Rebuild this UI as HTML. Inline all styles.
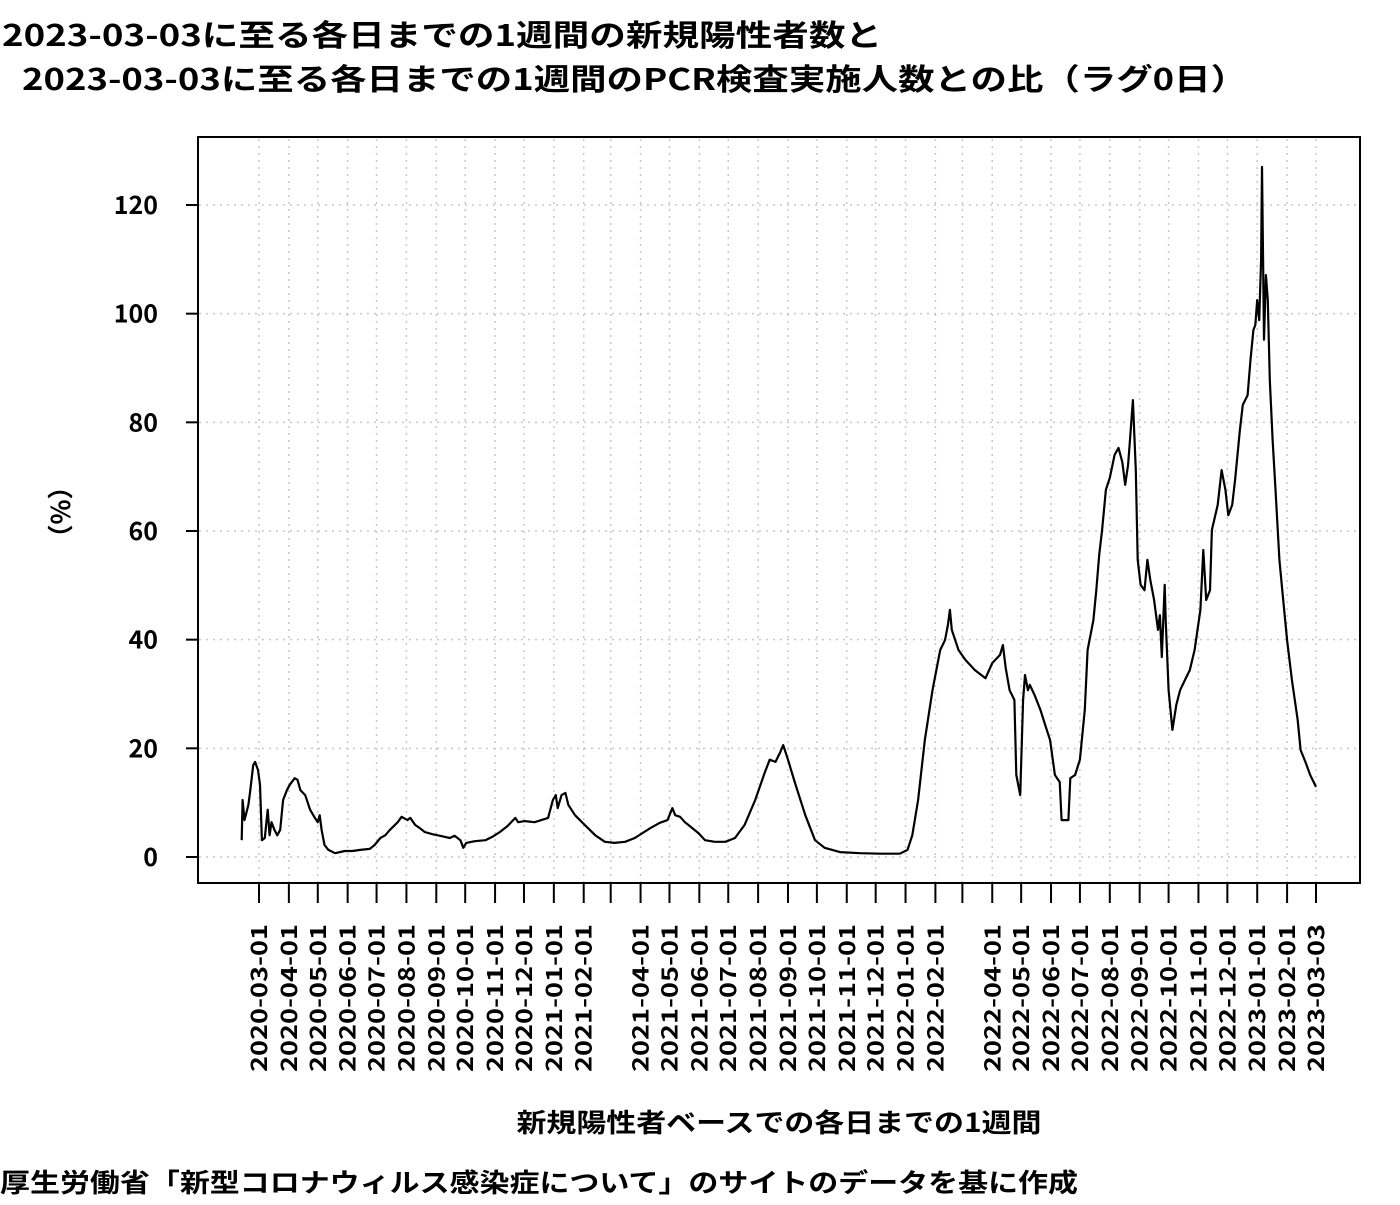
<!DOCTYPE html>
<html><head><meta charset="utf-8">
<style>
body{margin:0;background:#fff;}
svg text{font-family:"Noto Sans CJK JP","Liberation Sans",sans-serif;font-weight:bold;fill:#000;}
</style></head>
<body>
<svg id="chart" width="1400" height="1200" xmlns="http://www.w3.org/2000/svg">
<text x="2" y="46" font-size="30" textLength="880" lengthAdjust="spacingAndGlyphs">2023-03-03に至る各日までの1週間の新規陽性者数と</text>
<text x="22" y="90" font-size="30" textLength="1225" lengthAdjust="spacingAndGlyphs">2023-03-03に至る各日までの1週間のPCR検査実施人数との比（ラグ0日）</text>
<text x="779" y="1132" font-size="26" text-anchor="middle" textLength="525" lengthAdjust="spacingAndGlyphs">新規陽性者ベースでの各日までの1週間</text>
<text x="0" y="1192" font-size="26" textLength="1078" lengthAdjust="spacingAndGlyphs">厚生労働省「新型コロナウィルス感染症について」のサイトのデータを基に作成</text>
<text transform="translate(70,512) rotate(-90)" font-size="26" text-anchor="middle">（%）</text>
<g id="grid"></g>
<g id="axes"></g>
<path id="line" fill="none" stroke="#000" stroke-width="2.2" stroke-linejoin="round"/>
<rect x="198" y="137" width="1162" height="746" fill="none" stroke="#000" stroke-width="2"/>
</svg>
<script>
const tickDates=["2020-03-01","2020-04-01","2020-05-01","2020-06-01","2020-07-01","2020-08-01","2020-09-01","2020-10-01","2020-11-01","2020-12-01","2021-01-01","2021-02-01","2021-03-01","2021-04-01","2021-05-01","2021-06-01","2021-07-01","2021-08-01","2021-09-01","2021-10-01","2021-11-01","2021-12-01","2022-01-01","2022-02-01","2022-03-01","2022-04-01","2022-05-01","2022-06-01","2022-07-01","2022-08-01","2022-09-01","2022-10-01","2022-11-01","2022-12-01","2023-01-01","2023-02-01","2023-03-03"];
const hiddenLabels=["2021-03-01","2022-03-01"];
const yTicks=[0,20,40,60,80,100,120];
// days since 2020-03-01
const days=[-18,-17,-15,-11,-9,-6,-4,-1,1,3,6,9,11,13,16,19,22,25,29,32,37,40,43,48,53,58,61,63,65,68,72,79,89,97,105,115,120,126,131,136,144,148,154,157,162,167,172,180,188,198,203,209,212,215,224,235,242,250,258,266,269,276,286,300,305,308,310,314,318,321,328,338,349,359,369,380,390,406,416,424,429,432,437,442,447,456,463,473,484,494,504,515,525,530,536,541,544,549,556,567,577,587,603,624,645,665,673,678,684,691,699,707,712,715,717,719,726,733,743,754,761,769,772,775,779,784,786,790,793,795,798,800,805,811,816,821,826,831,833,840,842,847,852,857,860,866,869,872,875,879,883,888,892,896,899,902,904,907,910,912,915,919,922,925,929,933,935,937,940,941,944,948,952,956,961,966,971,977,980,983,987,989,995,999,1003,1006,1010,1013,1018,1021,1026,1029,1032,1034,1036,1038,1040,1041,1043,1045,1047,1049,1052,1055,1059,1063,1067,1072,1078,1081,1086,1091,1097];
const ratios=[3.1,10.5,6.8,9.6,12.3,16.9,17.5,16.0,13.3,3.1,3.5,8.7,4.0,6.4,5.0,4.0,5.0,10.5,12.3,13.3,14.5,14.2,12.3,11.4,8.7,7.2,6.4,7.7,5.0,2.2,1.3,0.7,1.1,1.1,1.3,1.5,2.2,3.5,4.0,5.0,6.4,7.4,6.8,7.2,5.9,5.3,4.6,4.2,3.9,3.5,3.9,3.1,1.7,2.6,2.9,3.1,3.7,4.6,5.7,7.2,6.4,6.6,6.4,7.2,10.5,11.4,9.0,11.4,11.8,9.6,7.7,5.9,4.0,2.8,2.6,2.8,3.5,5.3,6.3,6.8,9.0,7.7,7.4,6.4,5.7,4.4,3.1,2.8,2.8,3.5,5.9,10.5,15.6,17.9,17.5,19.3,20.6,17.9,13.8,7.7,3.1,1.7,0.9,0.7,0.6,0.6,1.3,4.0,10.5,21.5,30.7,38.1,39.9,42.7,45.5,41.8,38.1,36.3,34.4,32.9,35.7,37.2,39.0,34.8,30.7,28.9,15.1,11.4,28.9,33.5,30.7,31.7,29.8,27.1,24.3,21.5,15.1,13.8,6.8,6.8,14.5,15.1,17.9,27.1,38.1,43.6,49.1,55.6,60.2,67.6,69.8,74.0,75.3,72.7,68.5,72.2,76.8,84.1,71.2,54.7,50.1,49.1,54.7,51.0,47.3,41.8,44.5,36.8,50.1,43.6,30.7,23.4,28.0,30.7,32.6,34.4,38.1,45.5,56.5,47.3,49.1,60.2,64.8,71.2,67.6,62.9,64.8,69.4,78.6,83.2,85.0,91.5,97.0,97.9,102.5,98.8,109.9,127.0,95.2,107.1,102.5,87.8,76.8,67.6,54.7,47.3,39.9,32.6,25.2,19.7,17.5,15.1,12.9];

const NS="http://www.w3.org/2000/svg";
const base=Date.UTC(2020,2,1);
const X0=259,PXD=1057/1097,Y0=857,PXV=(857-205)/120;
function xDay(d){return X0+d*PXD;}
function xDate(s){const p=s.split("-");return xDay((Date.UTC(+p[0],p[1]-1,+p[2])-base)/86400000);}
function yVal(v){return Y0-v*PXV;}
const grid=document.getElementById("grid"),axes=document.getElementById("axes");
function mk(tag,attrs,parent){const e=document.createElementNS(NS,tag);for(const k in attrs)e.setAttribute(k,attrs[k]);parent.appendChild(e);return e;}
yTicks.forEach(v=>{
  const y=yVal(v);
  const g=mk("line",{x1:199,x2:1359,y1:y,y2:y,stroke:"#c8c8c8","stroke-width":1.5,"stroke-dasharray":"2 5"},grid);
  
  
  const t=mk("line",{x1:186,x2:198,y1:y,y2:y,stroke:"#000","stroke-width":2},axes);
  
  
  const l=mk("text",{x:158,y:y+9,"font-size":25,"text-anchor":"end"},axes);
  l.textContent=v;
  
  
});
tickDates.forEach(s=>{
  const x=xDate(s);
  const g=mk("line",{x1:x,x2:x,y1:139,y2:882,stroke:"#c8c8c8","stroke-width":1.5,"stroke-dasharray":"2 5"},grid);
  
  
  const t=mk("line",{x1:x,x2:x,y1:883,y2:903,stroke:"#000","stroke-width":2},axes);
  
  
  if(hiddenLabels.indexOf(s)<0){
    const l=mk("text",{transform:`translate(${x+8},924) rotate(-90)`,"font-size":22,"text-anchor":"end",textLength:148,lengthAdjust:"spacingAndGlyphs"},axes);
    l.textContent=s;
    
    
  }
});
let d="";
days.forEach((dd,i)=>{d+=(i?"L":"M")+xDay(dd).toFixed(1)+","+yVal(ratios[i]).toFixed(1);});
document.getElementById("line").setAttribute("d",d);
</script>
</body></html>
